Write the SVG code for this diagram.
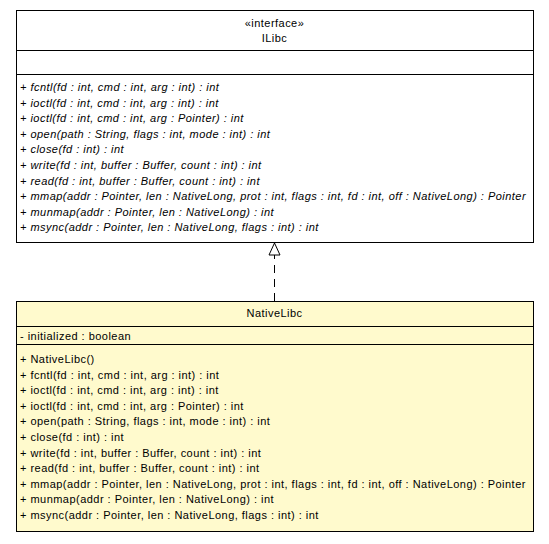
<svg xmlns="http://www.w3.org/2000/svg" width="549" height="544" viewBox="0 0 549 544">
<style>
text{font-family:"Liberation Sans",Arial,sans-serif;font-size:11px;letter-spacing:0.47px;fill:#000}
.i{font-style:italic}
.c{text-anchor:middle}
.box{stroke:#000;stroke-width:1}
</style>
<defs>
<marker id="tri" markerWidth="14" markerHeight="16" refX="13" refY="7" orient="auto" markerUnits="userSpaceOnUse">
<path d="M1,1.5 L13,7 L1,12.5 Z" fill="#fff" stroke="#000" stroke-width="1"/>
</marker>
</defs>
<rect width="549" height="544" fill="#fff"/>
<g id="edges">
<line x1="274.5" y1="301" x2="274.5" y2="243" stroke="#000" stroke-dasharray="8,6" marker-end="url(#tri)"/>
</g>
<g id="ILibc">
<rect class="box" x="16.5" y="10.5" width="517" height="232" fill="#fff"/>
<line class="box" x1="16.5" y1="50.5" x2="533.5" y2="50.5"/>
<line class="box" x1="16.5" y1="74.5" x2="533.5" y2="74.5"/>
<text class="c" x="274.5" y="27">«interface»</text>
<text class="c" x="274.5" y="42">ILibc</text>
<text class="i" x="20" y="91">+ fcntl(fd : int, cmd : int, arg : int) : int</text>
<text class="i" x="20" y="106.6">+ ioctl(fd : int, cmd : int, arg : int) : int</text>
<text class="i" x="20" y="122.2">+ ioctl(fd : int, cmd : int, arg : Pointer) : int</text>
<text class="i" x="20" y="137.8">+ open(path : String, flags : int, mode : int) : int</text>
<text class="i" x="20" y="153.4">+ close(fd : int) : int</text>
<text class="i" x="20" y="169">+ write(fd : int, buffer : Buffer, count : int) : int</text>
<text class="i" x="20" y="184.6">+ read(fd : int, buffer : Buffer, count : int) : int</text>
<text class="i" x="20" y="200.2">+ mmap(addr : Pointer, len : NativeLong, prot : int, flags : int, fd : int, off : NativeLong) : Pointer</text>
<text class="i" x="20" y="215.8">+ munmap(addr : Pointer, len : NativeLong) : int</text>
<text class="i" x="20" y="231.4">+ msync(addr : Pointer, len : NativeLong, flags : int) : int</text>
</g>
<g id="NativeLibc">
<rect class="box" x="16.5" y="301.5" width="517" height="230" fill="#FFFACD"/>
<line class="box" x1="16.5" y1="326.5" x2="533.5" y2="326.5"/>
<line class="box" x1="16.5" y1="344.5" x2="533.5" y2="344.5"/>
<text class="c" x="274.5" y="317">NativeLibc</text>
<text x="20" y="340">- initialized : boolean</text>
<text x="20" y="363">+ NativeLibc()</text>
<text x="20" y="378.6">+ fcntl(fd : int, cmd : int, arg : int) : int</text>
<text x="20" y="394.2">+ ioctl(fd : int, cmd : int, arg : int) : int</text>
<text x="20" y="409.8">+ ioctl(fd : int, cmd : int, arg : Pointer) : int</text>
<text x="20" y="425.4">+ open(path : String, flags : int, mode : int) : int</text>
<text x="20" y="441">+ close(fd : int) : int</text>
<text x="20" y="456.6">+ write(fd : int, buffer : Buffer, count : int) : int</text>
<text x="20" y="472.2">+ read(fd : int, buffer : Buffer, count : int) : int</text>
<text x="20" y="487.8">+ mmap(addr : Pointer, len : NativeLong, prot : int, flags : int, fd : int, off : NativeLong) : Pointer</text>
<text x="20" y="503.4">+ munmap(addr : Pointer, len : NativeLong) : int</text>
<text x="20" y="519">+ msync(addr : Pointer, len : NativeLong, flags : int) : int</text>
</g>
</svg>
